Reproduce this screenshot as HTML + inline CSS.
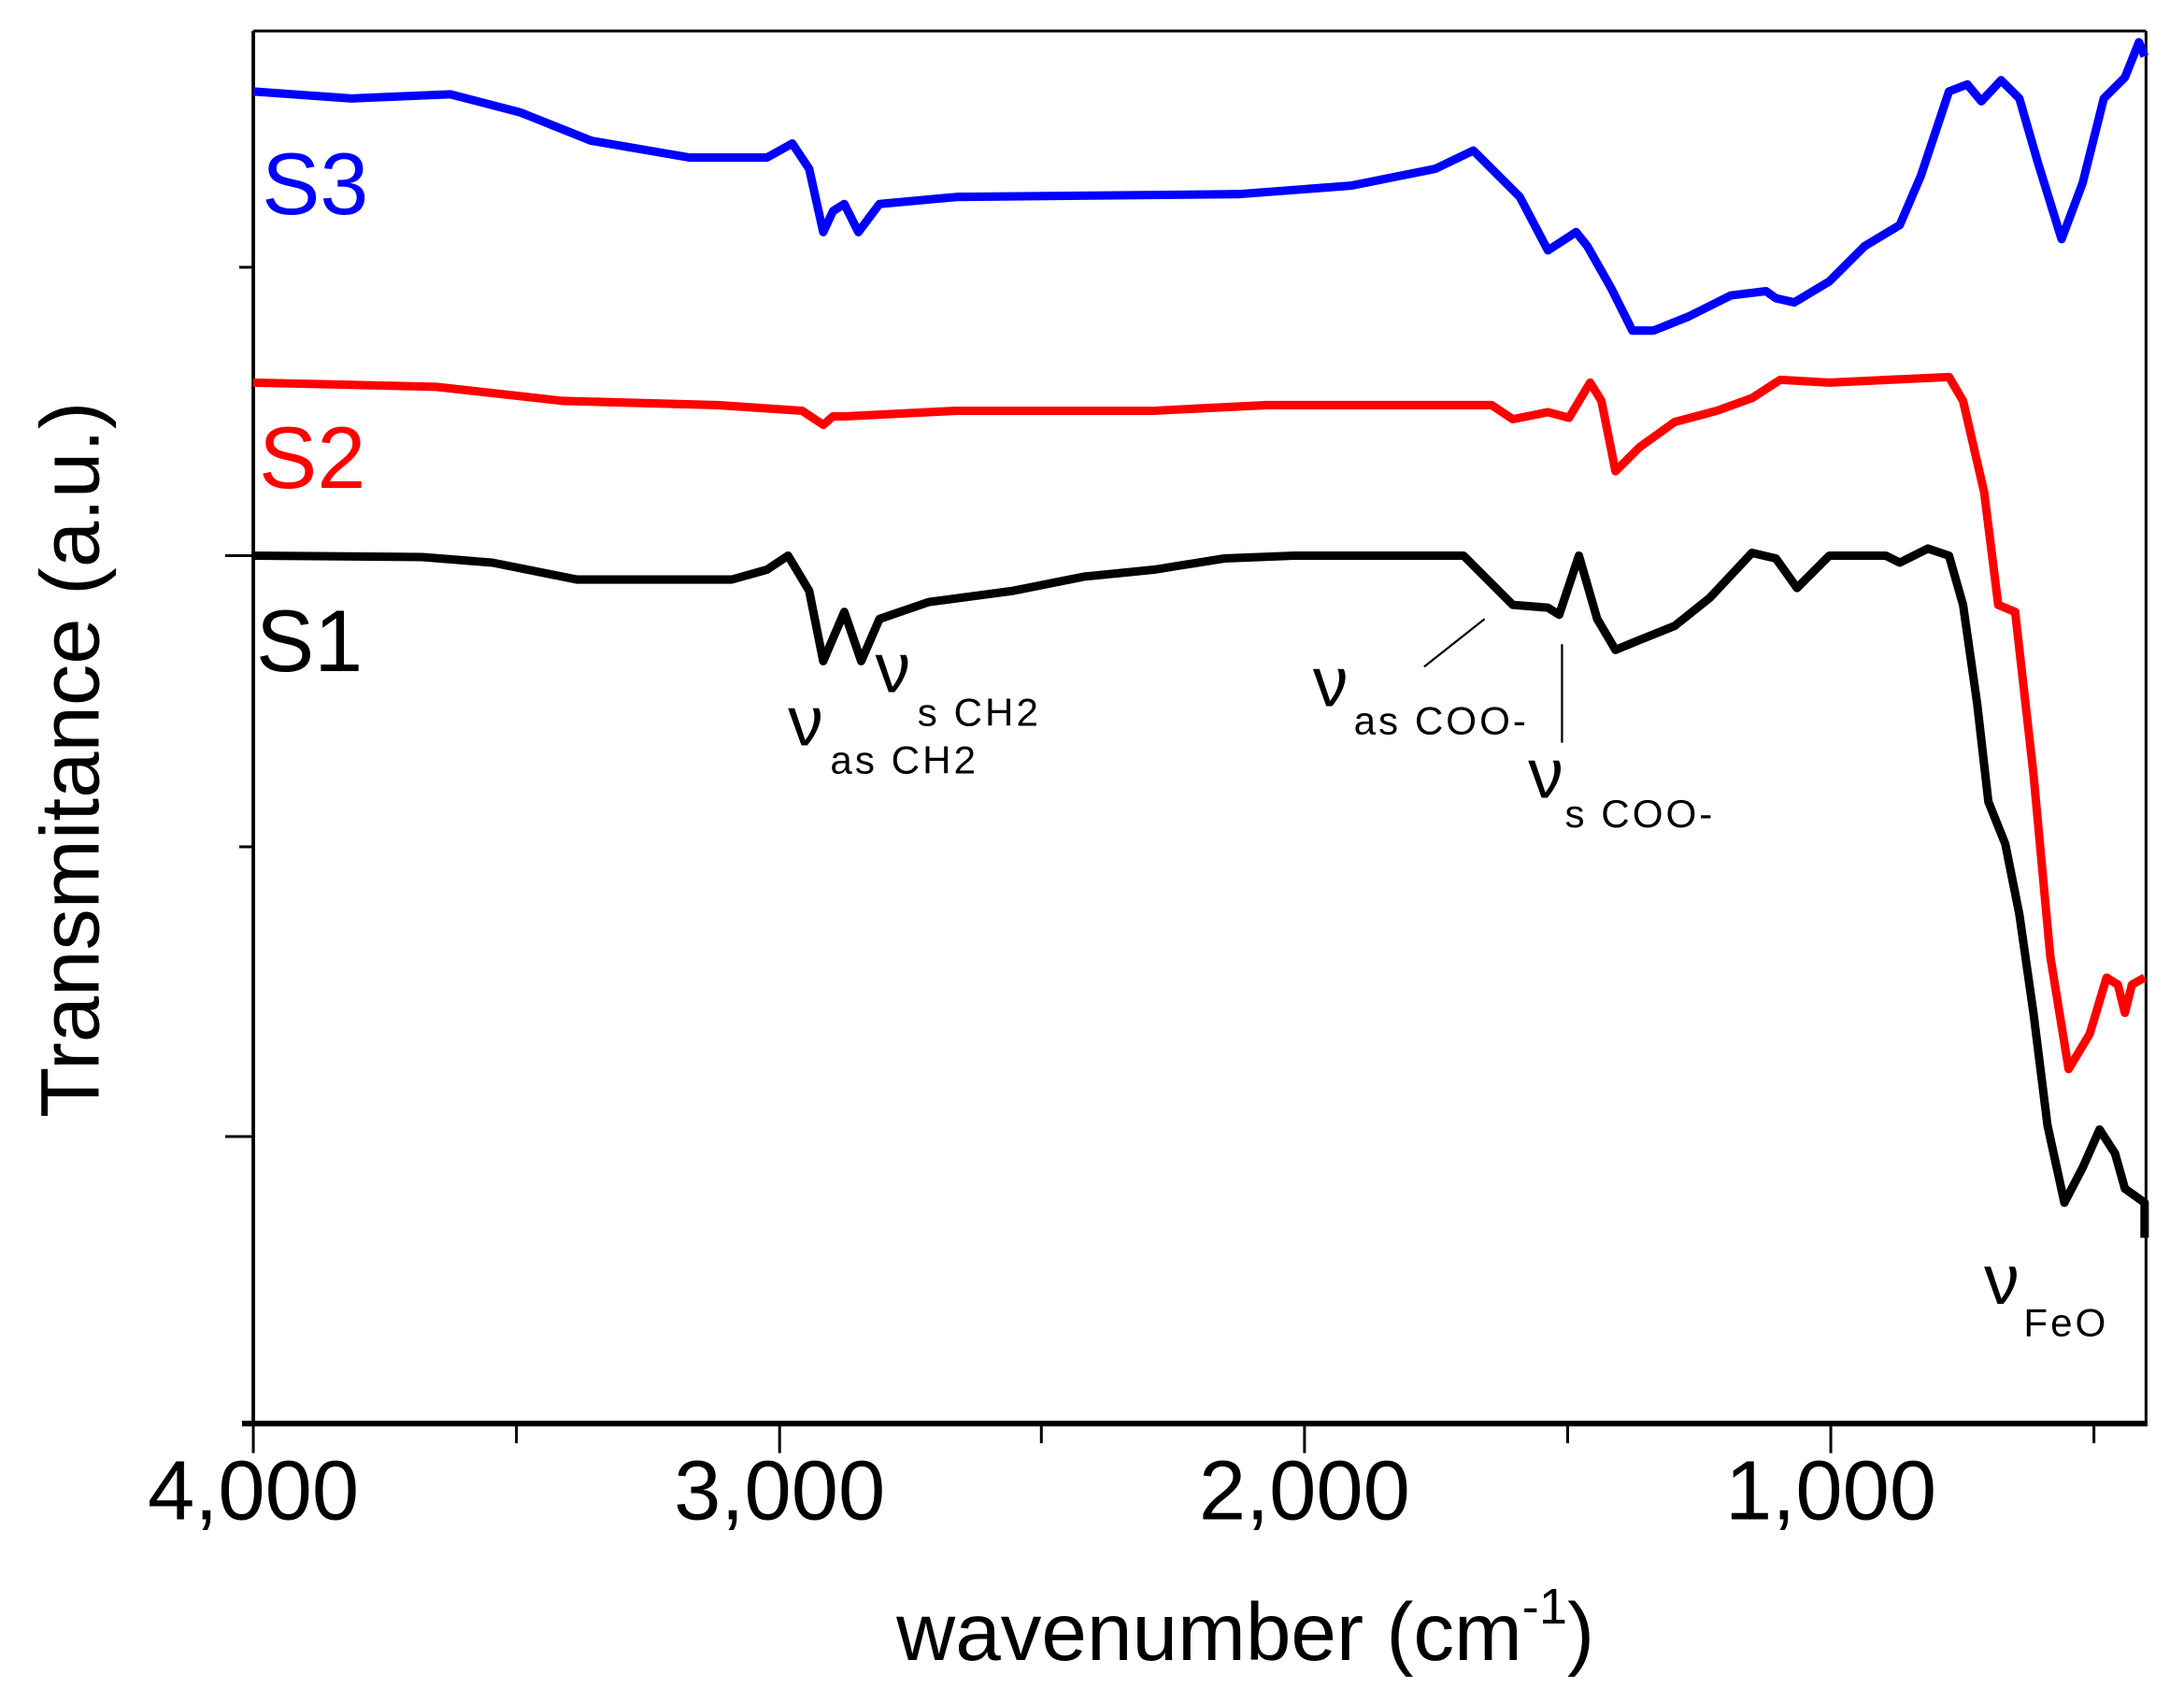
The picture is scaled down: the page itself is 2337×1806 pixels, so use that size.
<!DOCTYPE html>
<html><head><meta charset="utf-8"><style>
html,body{margin:0;padding:0;background:#fff;}
svg{display:block;}
text{font-family:"Liberation Sans",Arial,sans-serif;}
</style></head><body>
<svg width="2337" height="1806" viewBox="0 0 1552 1200" preserveAspectRatio="none" xmlns="http://www.w3.org/2000/svg">
<rect x="0" y="0" width="1552" height="1200" fill="#fff"/>
<line x1="180" y1="22" x2="1525" y2="22" stroke="#000" stroke-width="2"/>
<line x1="1525" y1="22" x2="1525" y2="1013" stroke="#000" stroke-width="2"/>
<line x1="180" y1="22" x2="180" y2="1013" stroke="#000" stroke-width="2.5"/>
<line x1="172" y1="1012" x2="1526" y2="1012" stroke="#000" stroke-width="4"/>
<g stroke="#000" stroke-width="2">
<line x1="170" y1="190" x2="180" y2="190"/>
<line x1="160" y1="395" x2="180" y2="395"/>
<line x1="170" y1="602" x2="180" y2="602"/>
<line x1="160" y1="808" x2="180" y2="808"/>
</g>
<g stroke="#000" stroke-width="2">
<line x1="180" y1="1013" x2="180" y2="1033"/>
<line x1="367" y1="1013" x2="367" y2="1026"/>
<line x1="554" y1="1013" x2="554" y2="1033"/>
<line x1="740" y1="1013" x2="740" y2="1026"/>
<line x1="927" y1="1013" x2="927" y2="1033"/>
<line x1="1114" y1="1013" x2="1114" y2="1026"/>
<line x1="1301" y1="1013" x2="1301" y2="1033"/>
<line x1="1488" y1="1013" x2="1488" y2="1026"/>
</g>
<g font-size="60" text-anchor="middle" fill="#000">
<text x="180" y="1080">4,000</text>
<text x="554" y="1080">3,000</text>
<text x="927" y="1080">2,000</text>
<text x="1301" y="1080">1,000</text>
</g>
<text x="885" y="1180" font-size="58" text-anchor="middle">wavenumber (cm<tspan font-size="36" dy="-26">-1</tspan><tspan dy="26">)</tspan></text>
<text transform="translate(70,540) rotate(-90)" font-size="59" text-anchor="middle">Transmitance (a.u.)</text>
<g fill="none" stroke-width="6" stroke-linejoin="round">
<polyline stroke="#0000ff" points="180,65 250,70 320,67 370,80 420,100 490,112 545,112 563,102 575,120 585,165 592,150 600,145 610,165 625,145 680,140 880,138 960,132 1020,120 1047,107 1065,125 1080,140 1100,178 1120,165 1128,175 1145,205 1160,235 1175,235 1200,225 1230,210 1255,207 1262,212 1275,215 1300,200 1325,175 1350,160 1365,125 1385,65 1398,60 1408,72 1422,57 1435,70 1448,115 1465,170 1480,130 1495,70 1510,55 1520,30 1524,40"/>
<polyline stroke="#ff0000" points="180,272 310,275 400,285 510,288 570,292 585,302 592,296 600,296 680,292 820,292 900,288 1060,288 1075,298 1100,293 1115,297 1130,272 1138,285 1148,335 1165,318 1190,300 1220,292 1245,283 1265,270 1300,272 1385,268 1395,285 1410,350 1420,430 1432,435 1445,550 1457,680 1470,760 1485,735 1497,695 1505,700 1510,720 1515,700 1524,695"/>
<polyline stroke="#000000" points="180,395 300,396 350,400 410,412 520,412 545,405 560,395 575,420 585,470 600,435 612,470 625,440 660,428 720,420 770,410 820,405 870,397 920,395 1040,395 1055,410 1075,430 1100,432 1108,437 1122,395 1135,440 1148,462 1165,455 1190,445 1215,425 1245,393 1262,397 1277,418 1300,395 1340,395 1350,400 1370,390 1385,395 1395,430 1405,500 1413,570 1425,600 1435,650 1445,720 1455,800 1467,855 1480,830 1492,803 1503,820 1510,845 1524,855 1524,880"/>
</g>
<text x="186" y="152" font-size="62" fill="#0000ff">S3</text>
<text x="184" y="347" font-size="62" fill="#ff0000">S2</text>
<text x="182" y="477" font-size="62" fill="#000">S1</text>
<g fill="#000">
<text x="560" y="530" font-size="50" font-family="Liberation Serif,serif">ν</text>
<text x="590" y="550" font-size="28" letter-spacing="2">as CH2</text>
<text x="622" y="492" font-size="50" font-family="Liberation Serif,serif">ν</text>
<text x="652" y="516" font-size="28" letter-spacing="2">s CH2</text>
<text x="933" y="502" font-size="50" font-family="Liberation Serif,serif">ν</text>
<text x="962" y="522" font-size="28" letter-spacing="2">as COO-</text>
<text x="1086" y="567" font-size="50" font-family="Liberation Serif,serif">ν</text>
<text x="1112" y="588" font-size="28" letter-spacing="2">s COO-</text>
<text x="1410" y="927" font-size="50" font-family="Liberation Serif,serif">ν</text>
<text x="1438" y="950" font-size="28" letter-spacing="2">FeO</text>
</g>
<line x1="1012" y1="474" x2="1055" y2="440" stroke="#000" stroke-width="1.5"/>
<line x1="1110" y1="458" x2="1110" y2="528" stroke="#000" stroke-width="1.5"/>
</svg>
</body></html>
